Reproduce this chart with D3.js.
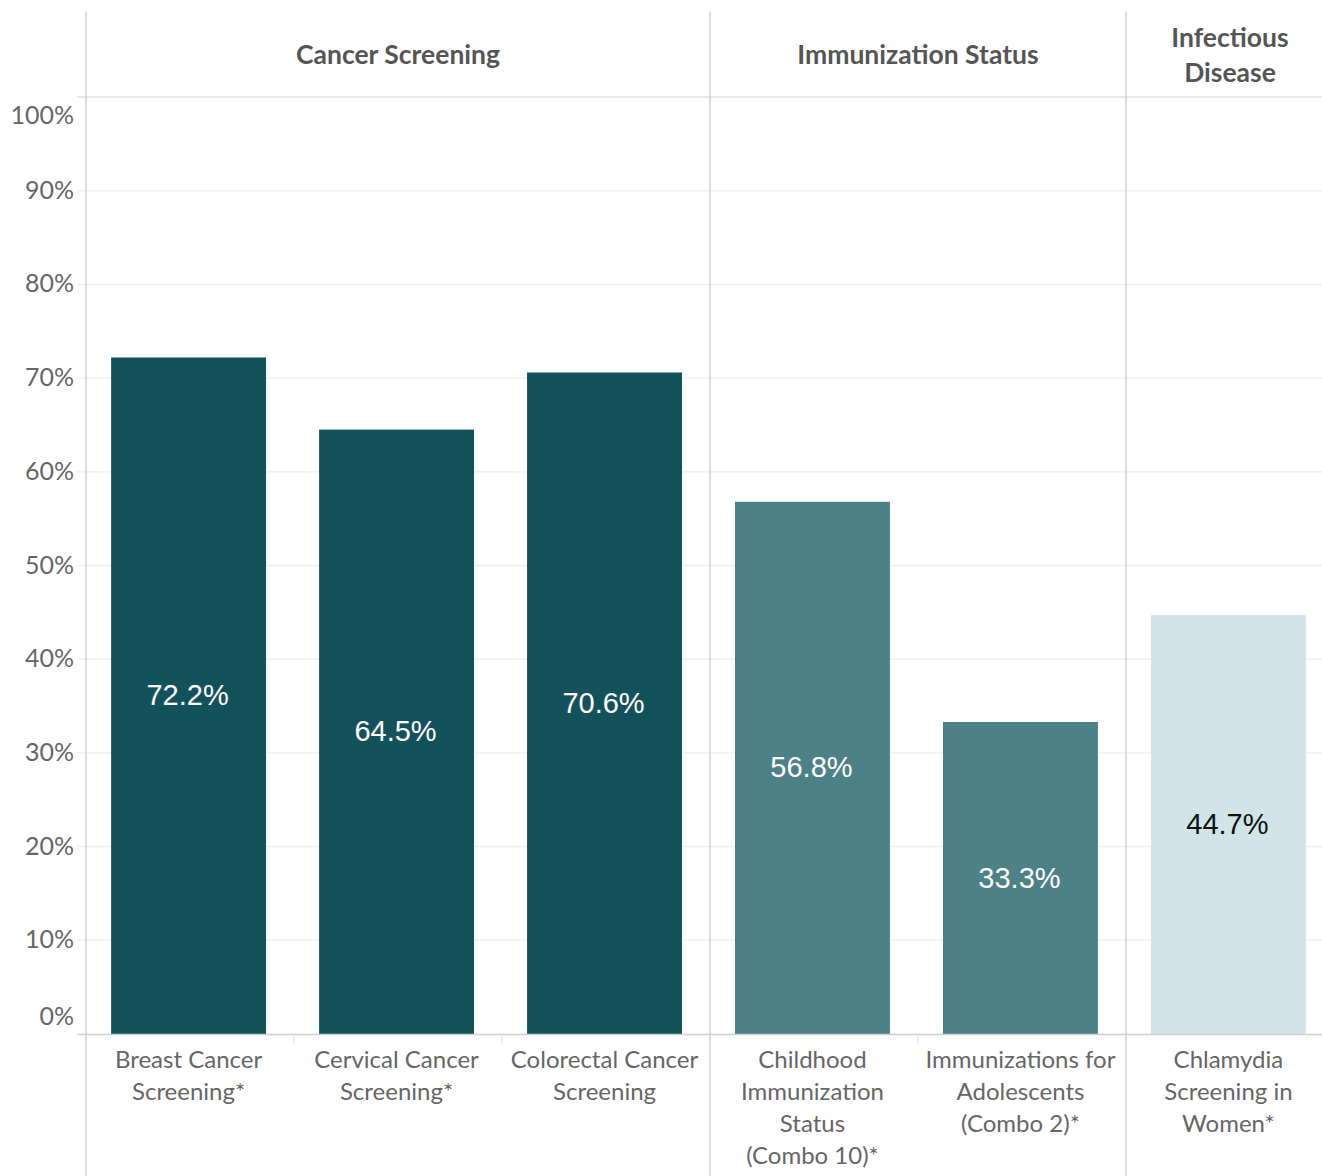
<!DOCTYPE html>
<html lang="en">
<head>
<meta charset="utf-8">
<title>Quality Measures</title>
<script src="https://cdn.jsdelivr.net/npm/d3@7"></script>
<style>
  body { margin: 0; background: #fff; }
  svg { display: block; }
</style>
</head>
<body>
<script>
// chart data
var categories = ["Breast Cancer Screening*", "Cervical Cancer Screening*", "Colorectal Cancer Screening",
  "Childhood Immunization Status (Combo 10)*", "Immunizations for Adolescents (Combo 2)*", "Chlamydia Screening in Women*"];
var categoryLines = [
  ["Breast Cancer", "Screening*"],
  ["Cervical Cancer", "Screening*"],
  ["Colorectal Cancer", "Screening"],
  ["Childhood", "Immunization", "Status", "(Combo 10)*"],
  ["Immunizations for", "Adolescents", "(Combo 2)*"],
  ["Chlamydia", "Screening in", "Women*"]
];
var values = [72.2, 64.5, 70.6, 56.8, 33.3, 44.7];
var categoryGroup = [0, 0, 0, 1, 1, 2];
var groups = ["Cancer Screening", "Immunization Status", "Infectious Disease"];
var groupLines = [["Cancer Screening"], ["Immunization Status"], ["Infectious", "Disease"]];
var yTicks = [0, 10, 20, 30, 40, 50, 60, 70, 80, 90, 100];

var groupColors = ["#14525b", "#4c8187", "#d1e5e8"];
var labelColors = ["#ffffff", "#ffffff", "#111111"];

var width = 1322, height = 1176;
var plotLeft = 86, plotRight = 1322, plotTop = 97, plotBottom = 1034;
var step = 208;

var svg = d3.select("body").append("svg").attr("width", width).attr("height", height);

var x = d3.scaleBand().domain(categories).range([plotLeft - 1.5, plotLeft - 1.5 + step * categories.length]).paddingInner(0.255).paddingOuter(0.128);
var y = d3.scaleLinear().domain([0, 100]).range([plotBottom, plotTop]);

// gridlines
svg.append("g").selectAll("line").data(yTicks.filter(function (d) { return d > 0 && d < 100; })).enter().append("line")
  .attr("x1", 77).attr("x2", plotRight)
  .attr("y1", function (d) { return y(d); }).attr("y2", function (d) { return y(d); })
  .attr("stroke", "#f0f0f0").attr("stroke-width", 1.5);

// header line
svg.append("line").attr("x1", 77).attr("x2", plotRight).attr("y1", y(100)).attr("y2", y(100))
  .attr("stroke", "#e2e2e2").attr("stroke-width", 1.5);

// y axis labels
var yAxis = d3.axisLeft(y).tickValues(yTicks).tickSize(0).tickPadding(12).tickFormat(function (d) { return d + "%"; });
var yg = svg.append("g").attr("transform", "translate(" + plotLeft + ",0)").call(yAxis);
yg.select(".domain").remove();
yg.selectAll("text")
  .attr("font-family", "Lato, 'Open Sans', sans-serif").attr("font-size", "25px").attr("fill", "#666")
  .attr("dy", function (d) { return d === 100 ? "1.05em" : d === 0 ? "-0.4em" : "0.3em"; });

// bars
svg.append("g").selectAll("rect").data(values).enter().append("rect")
  .attr("x", function (d, i) { return x(categories[i]); })
  .attr("width", x.bandwidth())
  .attr("y", function (d) { return y(d); })
  .attr("height", function (d) { return y(0) - y(d); })
  .attr("fill", function (d, i) { return groupColors[categoryGroup[i]]; });

// value labels
svg.append("g").selectAll("text").data(values).enter().append("text")
  .attr("x", function (d, i) { return x(categories[i]) + x.bandwidth() / 2 - 1; })
  .attr("y", function (d) { return (y(d) + y(0)) / 2; })
  .attr("dy", "0.33em")
  .attr("text-anchor", "middle")
  .attr("font-family", "'Liberation Sans', Arial, sans-serif").attr("font-size", "29px")
  .attr("fill", function (d, i) { return labelColors[categoryGroup[i]]; })
  .text(function (d) { return d.toFixed(1) + "%"; });

// bottom axis line and column ticks
svg.append("line").attr("x1", 77).attr("x2", plotRight).attr("y1", plotBottom + 0.5).attr("y2", plotBottom + 0.5)
  .attr("stroke", "#d0d0d0").attr("stroke-width", 1.5);
var colEdges = [];
categories.forEach(function (c, i) {
  if (i > 0 && categoryGroup[i] === categoryGroup[i - 1]) colEdges.push(plotLeft + step * i);
});
svg.append("g").selectAll("line").data(colEdges).enter().append("line")
  .attr("x1", function (d) { return d; }).attr("x2", function (d) { return d; })
  .attr("y1", plotBottom + 1).attr("y2", plotBottom + 10)
  .attr("stroke", "#ebebeb").attr("stroke-width", 1.5);

// group separators
var groupSpans = [];
groups.forEach(function (g, gi) {
  var idx = categoryGroup.indexOf(gi);
  var n = categoryGroup.filter(function (c) { return c === gi; }).length;
  groupSpans.push({ start: plotLeft + step * idx, end: plotLeft + step * (idx + n), gi: gi });
});
svg.append("g").selectAll("line").data(groupSpans).enter().append("line")
  .attr("x1", function (d) { return d.start; }).attr("x2", function (d) { return d.start; })
  .attr("y1", 12).attr("y2", height)
  .attr("stroke", "#cfcfcf").attr("stroke-width", 1.5);

// group headers
var hdr = svg.append("g").selectAll("text").data(groupSpans).enter().append("text")
  .attr("text-anchor", "middle")
  .attr("font-family", "Lato, 'Open Sans', sans-serif").attr("font-size", "26.5px").attr("font-weight", "bold")
  .attr("fill", "#555");
hdr.each(function (d) {
  var lines = groupLines[d.gi];
  var cx = (d.start + d.end) / 2;
  var y0 = 55 - (lines.length - 1) * 35 / 2;
  d3.select(this).selectAll("tspan").data(lines).enter().append("tspan")
    .attr("x", cx).attr("y", function (l, k) { return y0 + k * 35; }).attr("dy", "0.35em")
    .text(function (l) { return l; });
});

// category labels
var cat = svg.append("g").selectAll("text").data(categories).enter().append("text")
  .attr("text-anchor", "middle")
  .attr("font-family", "Lato, 'Open Sans', sans-serif").attr("font-size", "24px")
  .attr("fill", "#666");
cat.each(function (c, i) {
  var cx = x(c) + x.bandwidth() / 2;
  d3.select(this).selectAll("tspan").data(categoryLines[i]).enter().append("tspan")
    .attr("x", cx).attr("y", function (l, k) { return 1060 + k * 32; }).attr("dy", "0.35em")
    .text(function (l) { return l; });
});
</script>
</body>
</html>
